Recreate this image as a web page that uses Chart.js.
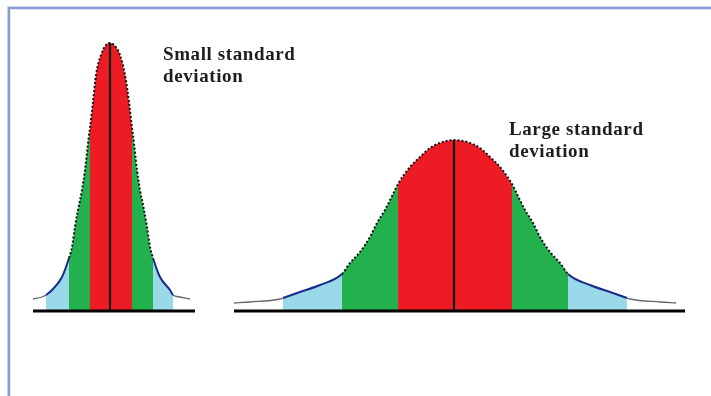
<!DOCTYPE html>
<html><head><meta charset="utf-8">
<script src="https://cdn.jsdelivr.net/npm/chart.js@4/dist/chart.umd.min.js"></script>
<style>
html,body{margin:0;padding:0;background:#fff;width:711px;height:396px;overflow:hidden}
#frame{position:absolute;left:8px;top:7px;width:720px;height:400px;border-top:2px solid #8a9dd0;border-left:2px solid #8a9dd0;box-shadow:-1px -1px 0 #c9d5ef, inset 1px 1px 0 #dfe6f6;}
canvas{position:absolute;left:0;top:0}
</style></head><body>
<div id="frame"></div>
<canvas id="c" width="711" height="396"></canvas>
<script>
// ---- data (arbitrary units, heights above the baseline) ----
const smallX = [3.3, 4.2, 4.6, 5.2, 6.2, 6.9, 7.2, 7.5, 7.8, 8.2, 8.5, 8.9, 9.0, 9.3, 9.6, 10.1, 10.6, 11.0, 11.4, 12.0, 12.5, 12.9, 13.2, 13.3, 13.7, 14.0, 14.4, 14.7, 15.0, 15.3, 16.0, 17.0, 17.3, 18.0, 19.0];
const smallY = [1.2, 1.4, 1.6, 2.1, 3.4, 5.3, 6.4, 8.4, 10.1, 12.1, 14.1, 17.6, 18.3, 20.9, 23.6, 25.6, 26.6, 26.8, 26.6, 25.6, 23.6, 20.9, 18.3, 17.6, 14.1, 12.1, 10.1, 8.4, 6.4, 5.3, 3.4, 2.1, 1.6, 1.4, 1.2];
const largeX = [23.4, 25.0, 28.0, 28.3, 30.0, 32.0, 34.2, 35.0, 36.0, 37.0, 37.7, 38.5, 39.5, 39.8, 41.0, 42.0, 43.0, 44.0, 45.4, 47.0, 48.0, 49.0, 50.0, 51.2, 51.5, 52.5, 53.3, 54.0, 55.0, 56.0, 56.8, 59.0, 61.0, 62.7, 63.0, 66.0, 67.6];
const largeY = [0.8, 0.9, 1.2, 1.3, 1.9, 2.6, 3.7, 4.8, 5.9, 7.4, 8.8, 10.1, 12.1, 12.7, 14.4, 15.4, 16.3, 16.8, 17.1, 16.8, 16.3, 15.4, 14.4, 12.7, 12.1, 10.1, 8.8, 7.4, 5.9, 4.8, 3.7, 2.6, 1.9, 1.3, 1.2, 0.9, 0.8];
const smallEdges = [4.6, 6.9, 9.0, 13.2, 15.3, 17.3];   // -3σ … +3σ boundaries
const largeEdges = [28.3, 34.2, 39.8, 51.2, 56.8, 62.7];
const smallMean = 11.0;
const largeMean = 45.4;
const smallBase = [3.3, 19.5];
const largeBase = [23.4, 68.5];
const bandColors = ['#99D9EA', '#22B14C', '#ED1C24', '#22B14C', '#99D9EA'];
const smallLabel = ['Small standard', 'deviation'];
const largeLabel = ['Large standard', 'deviation'];
const smallLabelAt = [16.3, 25.1];
const largeLabelAt = [50.9, 17.6];

// ---- build datasets ----
function pts(xs, ys) { return xs.map((x, i) => ({x: x, y: ys[i]})); }
const smallPts = pts(smallX, smallY);
const largePts = pts(largeX, largeY);
const datasets = [];

function addCurve(points, edges, mean, base) {
  const peak = Math.max(...points.map(p => p.y));
  datasets.push({data: [{x: mean, y: 0}, {x: mean, y: peak}], borderColor: '#111', borderWidth: 2.2, order: 0, fill: false});
  datasets.push({data: [{x: base[0], y: 0}, {x: base[1], y: 0}], borderColor: '#000', borderWidth: 3, order: 0, fill: false});
  const zone = x => (x < edges[0] || x > edges[5]) ? 0 : ((x < edges[1] || x > edges[4]) ? 1 : 2);
  datasets.push({
    data: points, borderWidth: 2, order: 1, fill: false, cubicInterpolationMode: 'monotone',
    segment: {
      borderColor: c => { const z = zone((c.p0.parsed.x + c.p1.parsed.x) / 2); return z === 0 ? '#666' : (z === 1 ? '#1a2a8a' : '#111'); },
      borderDash: c => { const z = zone((c.p0.parsed.x + c.p1.parsed.x) / 2); return z === 2 ? [2, 2] : []; },
      borderWidth: c => { const z = zone((c.p0.parsed.x + c.p1.parsed.x) / 2); return z === 0 ? 1.3 : 2; }
    }
  });
  for (let i = 0; i < 5; i++) {
    const seg = points.filter(p => p.x >= edges[i] - 1e-9 && p.x <= edges[i + 1] + 1e-9);
    datasets.push({data: seg, borderWidth: 0, borderColor: 'rgba(0,0,0,0)', backgroundColor: bandColors[i], fill: 'origin', order: 2, cubicInterpolationMode: 'monotone'});
  }
}
addCurve(smallPts, smallEdges, smallMean, smallBase);
addCurve(largePts, largeEdges, largeMean, largeBase);

const labelPlugin = {
  id: 'labels',
  afterDraw(chart) {
    const ctx = chart.ctx, xs = chart.scales.x, ys = chart.scales.y;
    ctx.save();
    ctx.font = 'bold 19px "Liberation Serif", serif';
    try { ctx.letterSpacing = '0.6px'; } catch (e) {}
    ctx.fillStyle = '#1e1e1e';
    ctx.textBaseline = 'alphabetic';
    [[smallLabel, smallLabelAt], [largeLabel, largeLabelAt]].forEach(([lines, at]) => {
      const px = xs.getPixelForValue(at[0]), py = ys.getPixelForValue(at[1]);
      lines.forEach((t, i) => ctx.fillText(t, px, py + i * 22));
    });
    ctx.restore();
  }
};

new Chart(document.getElementById('c'), {
  type: 'line',
  data: {datasets: datasets},
  options: {
    responsive: false, animation: false, devicePixelRatio: 1,
    layout: {padding: 0},
    elements: {point: {radius: 0}},
    plugins: {legend: {display: false}, tooltip: {enabled: false}},
    scales: {
      x: {type: 'linear', min: 0, max: 71.1, display: false},
      y: {type: 'linear', min: -8.5, max: 31.1, display: false}
    }
  },
  plugins: [labelPlugin]
});
</script></body></html>
